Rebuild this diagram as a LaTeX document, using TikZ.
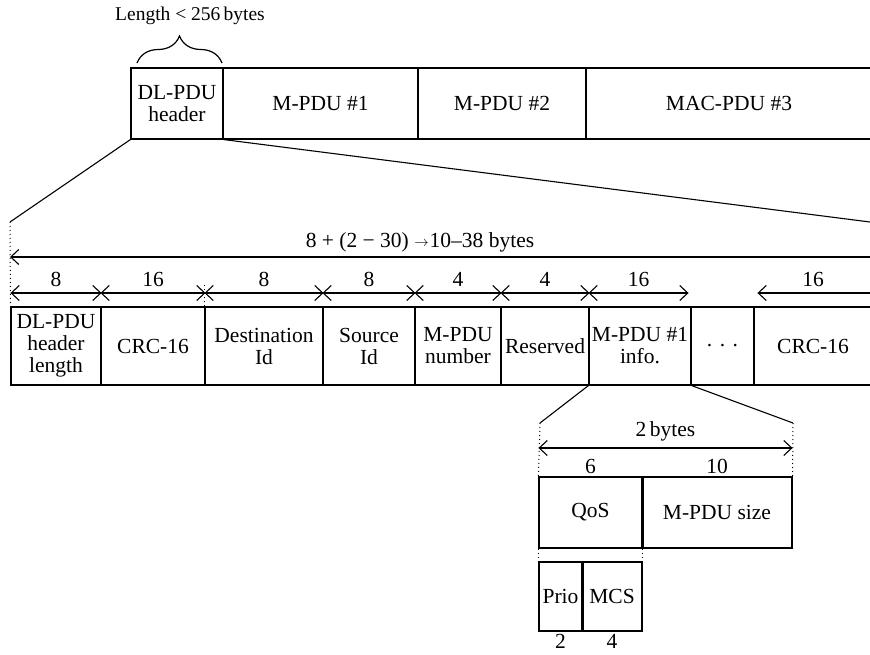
\documentclass[tikz,border=0pt]{standalone}
\usepackage{fontspec}
\setmainfont{Liberation Serif}
\usetikzlibrary{arrows.meta,decorations.pathreplacing,calc}
\begin{document}
\begin{tikzpicture}[x=1pt,y=-1pt,
  every node/.style={font=\fontsize{21.5}{22}\selectfont},
  cell/.style={draw, line width=1.1pt, inner sep=0pt, align=center},
  toprow/.style={cell, minimum height=71pt},
  mainrow/.style={cell, minimum height=78pt},
  ln/.style={line width=1.1pt},
  dotln/.style={line width=1pt, dash pattern=on 1pt off 3pt},
  sepline/.style={line width=2.2pt},
  >={Straight Barb[length=8pt,width=15pt]},
  lbl/.style={inner sep=6pt}
]
\useasboundingbox (0,0) rectangle (870,655);

% top row
\node[toprow, minimum width=92pt] (hdr) at (177,103.5) {DL-PDU\\header};
\node[toprow, minimum width=195pt] (m1) at (320.5,103.5) {M-PDU \#1};
\node[toprow, minimum width=168pt] (m2) at (502,103.5) {M-PDU \#2};
\node[toprow, minimum width=286pt] (mac) at (729,103.5) {MAC-PDU \#3};

\node[font=\fontsize{19.5}{22}\selectfont] (len256) at (190,16) {Length < 256\,bytes};
\draw[line width=1.2pt, decorate, decoration={brace, amplitude=27pt, aspect=0.5}] (137,63) -- (222,63);

% zoom lines
\coordinate (zl) at (10,222);
\coordinate (zr) at (870,222);
\draw[ln] (hdr.south west) -- (zl);
\draw[ln] (hdr.south east) -- (zr);

% main row
\node[mainrow, minimum width=90pt] (len) at (56,346) {DL-PDU\\header\\length};
\node[mainrow, minimum width=104pt] (crc) at (153,346) {CRC-16};
\node[mainrow, minimum width=118pt] (dest) at (264,346) {Destination\\Id};
\node[mainrow, minimum width=92pt] (src) at (369,346) {Source\\Id};
\node[mainrow, minimum width=86pt] (num) at (458,346) {M-PDU\\number};
\node[mainrow, minimum width=88pt] (res) at (545,346) {Reserved};
\node[mainrow, minimum width=102pt] (info) at (640,346) {M-PDU \#1\\info.};
\node[mainrow, minimum width=63pt] (dts) at (722.5,346) {.\hspace{0.35em}.\hspace{0.35em}.};
\node[mainrow, minimum width=118pt] (crc2) at (813,346) {CRC-16};

\draw[dotln] (zl) -- (len.north west);
\draw[dotln] (dest.north west) -- ++(0,-24);

% total length arrow
\coordinate (bigL) at (10,257);
\coordinate (bigR) at (876,257);
\draw[ln,<-] (bigL) -- (bigR);
\node (total) at (420,242) {8 + (2 − 30) \raisebox{0.05em}{\fontsize{15}{15}\selectfont$\rightarrow$}\kern1pt10–38 bytes};

% field arrows
\coordinate (ar) at (0,293);
\draw[ln,<->] (len.north west |- ar) -- (len.north east |- ar) node[midway,above,lbl]{8};
\draw[ln,<->] (crc.north west |- ar) -- (crc.north east |- ar) node[midway,above,lbl]{16};
\draw[ln,<->] (dest.north west |- ar) -- (dest.north east |- ar) node[midway,above,lbl]{8};
\draw[ln,<->] (src.north west |- ar) -- (src.north east |- ar) node[midway,above,lbl]{8};
\draw[ln,<->] (num.north west |- ar) -- (num.north east |- ar) node[midway,above,lbl]{4};
\draw[ln,<->] (res.north west |- ar) -- (res.north east |- ar) node[midway,above,lbl]{4};
\draw[ln,<->] (info.north west |- ar) -- ($(info.north east |- ar)+(-3,0)$) node[midway,above,lbl]{16};
\draw[ln,<-] ($(crc2.north west |- ar)+(4,0)$) -- (876,293) node[pos=0.47,above,lbl]{16};

% lower expansion
\coordinate (zl2) at (540,423);
\coordinate (zr2) at (793,423);
\draw[ln] (info.south west) -- (zl2);
\draw[ln] (info.south east) -- (zr2);

\node[cell, minimum width=103pt, minimum height=71pt] (qos) at (590.5,512.5) {QoS};
\node[cell, minimum width=150pt, minimum height=71pt] (size) at (717,512.5) {M-PDU size};
\draw[sepline] (qos.north east) -- (qos.south east);

\draw[dotln] (zl2) -- (qos.north west);
\draw[dotln] (zr2) -- (size.north east);

\coordinate (ar2) at (0,448);
\draw[ln,<->] (qos.north west |- ar2) -- (size.north east |- ar2) node[midway,above,lbl]{2\,bytes};
\node[above, inner sep=3pt] (six) at (qos.north) {6};
\node[above, inner sep=3pt] (ten) at (size.north) {10};

\node[cell, minimum width=43pt, minimum height=69pt] (prio) at (560.5,596.5) {Prio};
\node[cell, minimum width=60pt, minimum height=69pt] (mcs) at (612,596.5) {MCS};
\draw[sepline] (prio.north east) -- (prio.south east);
\draw[dotln] (qos.south west) -- (prio.north west);
\draw[dotln] (qos.south east) -- (mcs.north east);
\node[below, inner sep=3pt] (two) at (prio.south) {2};
\node[below, inner sep=3pt] (four) at (mcs.south) {4};
\end{tikzpicture}
\end{document}
